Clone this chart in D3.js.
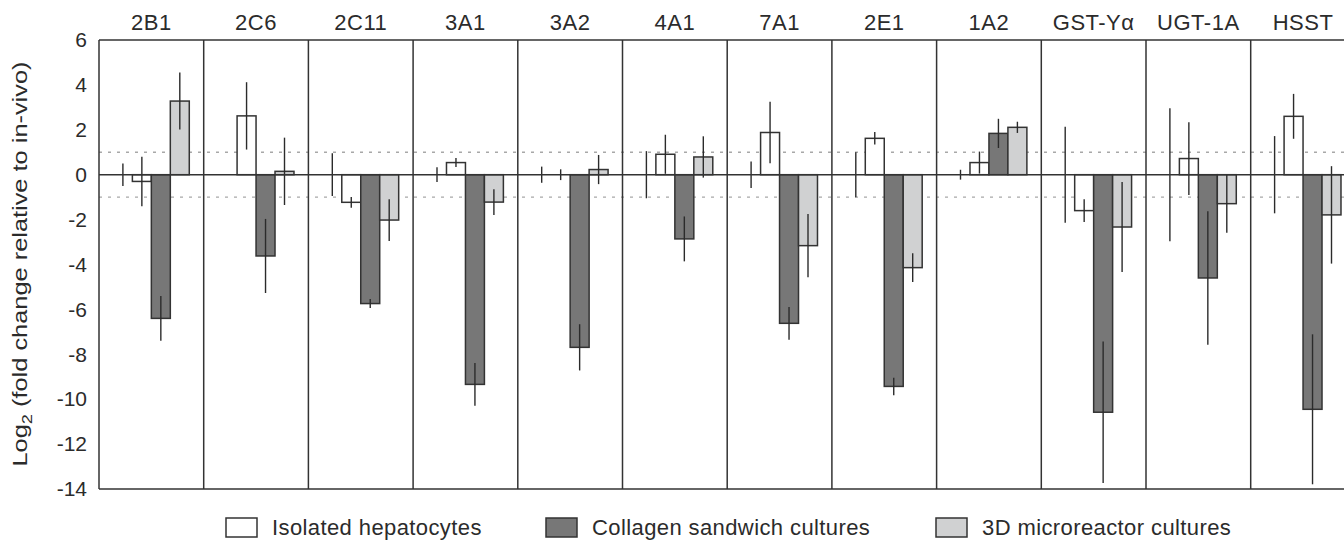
<!DOCTYPE html>
<html lang="en">
<head>
  <meta charset="UTF-8">
  <title>Fold change relative to in-vivo</title>
  <script src="https://d3js.org/d3.v7.min.js"></script>
  <style>
    body { margin: 0; background: #fff; }
    text { font-family: "Liberation Sans", Arial, sans-serif; fill: #2b2b2b; }
  </style>
</head>
<body>
<script>
  // genes along the top
  const genes = ["2B1", "2C6", "2C11", "3A1", "3A2", "4A1", "7A1", "2E1", "1A2", "GST-Y\u03b1", "UGT-1A", "HSST"];

  // first slot is the in-vivo reference (error bar only, value 0)
  const inVivo      = [0, 0, 0, 0, 0, 0, 0, 0, 0, 0, 0, 0];
  const inVivoErr   = [0.5, 0, 0.95, 0.33, 0.36, 1.05, 0.59, 1.0, 0.22, 2.14, 2.96, 1.72];

  const isolated    = [-0.3, 2.62, -1.23, 0.54, 0.0, 0.91, 1.88, 1.62, 0.54, -1.6, 0.72, 2.6];
  const isolatedErr = [1.1, 1.5, 0.24, 0.2, 0.24, 0.87, 1.37, 0.28, 0.49, 0.51, 1.62, 1.0];

  const collagen    = [-6.4, -3.62, -5.74, -9.34, -7.69, -2.86, -6.62, -9.43, 1.84, -10.58, -4.6, -10.45];
  const collagenErr = [1.0, 1.65, 0.2, 0.95, 1.03, 1.0, 0.73, 0.39, 0.65, 3.15, 2.97, 3.34];

  const micro       = [3.28, 0.15, -2.02, -1.22, 0.23, 0.79, -3.16, -4.14, 2.11, -2.33, -1.29, -1.79];
  const microErr    = [1.27, 1.5, 0.93, 0.57, 0.65, 0.92, 1.41, 0.64, 0.25, 2.0, 1.3, 2.17];

  const yTicks = [6, 4, 2, 0, -2, -4, -6, -8, -10, -12, -14];

  const series = [
    { key: "vivo", name: null, values: inVivo, errs: inVivoErr, fill: "none" },
    { key: "iso", name: "Isolated hepatocytes", values: isolated, errs: isolatedErr, fill: "#ffffff" },
    { key: "col", name: "Collagen sandwich cultures", values: collagen, errs: collagenErr, fill: "#777777" },
    { key: "mic", name: "3D microreactor cultures", values: micro, errs: microErr, fill: "#d0d1d2" }
  ];

  const W = 1344, H = 541;
  const plotLeft = 99, plotTop = 40, plotBottom = 489;
  const groupW = 104.7;
  const plotRight = plotLeft + genes.length * groupW; // runs past the page edge like the original

  const svg = d3.select("body").append("svg")
    .attr("width", W)
    .attr("height", H);

  const x0 = d3.scaleBand()
    .domain(genes)
    .range([plotLeft, plotRight])
    .padding(0);

  const x1 = d3.scaleBand()
    .domain(series.map(s => s.key))
    .range([0, x0.bandwidth()])
    .paddingInner(0)
    .paddingOuter(0.76);

  const y = d3.scaleLinear()
    .domain([-14, 6])
    .range([plotBottom, plotTop]);

  // dotted +/-1 guides
  svg.selectAll(".guide")
    .data([1, -1])
    .enter().append("line")
    .attr("x1", plotLeft).attr("x2", plotRight)
    .attr("y1", d => y(d)).attr("y2", d => y(d))
    .attr("stroke", "#a8a8a8")
    .attr("stroke-width", 1.3)
    .attr("stroke-dasharray", "3,6");

  // bars
  const groups = svg.selectAll(".gene")
    .data(genes)
    .enter().append("g")
    .attr("class", "gene")
    .attr("transform", d => "translate(" + x0(d) + ",0)");

  series.forEach(s => {
    if (s.fill === "none") return;
    groups.append("rect")
      .attr("x", x1(s.key))
      .attr("width", x1.bandwidth())
      .attr("y", (d, i) => y(Math.max(0, s.values[i])))
      .attr("height", (d, i) => Math.abs(y(s.values[i]) - y(0)))
      .attr("fill", s.fill)
      .attr("stroke", "#333")
      .attr("stroke-width", 1.5);
  });

  // zero line
  svg.append("line")
    .attr("x1", plotLeft).attr("x2", plotRight)
    .attr("y1", y(0)).attr("y2", y(0))
    .attr("stroke", "#333")
    .attr("stroke-width", 1.5);

  // error bars
  series.forEach(s => {
    groups.filter((d, i) => s.errs[i] > 0)
      .append("line")
      .attr("x1", x1(s.key) + x1.bandwidth() / 2)
      .attr("x2", x1(s.key) + x1.bandwidth() / 2)
      .attr("y1", d => y(s.values[genes.indexOf(d)] + s.errs[genes.indexOf(d)]))
      .attr("y2", d => y(s.values[genes.indexOf(d)] - s.errs[genes.indexOf(d)]))
      .attr("stroke", "#2b2b2b")
      .attr("stroke-width", 1.4);
  });

  // frame: top, bottom and dividers between genes
  svg.append("line")
    .attr("x1", plotLeft).attr("x2", plotRight)
    .attr("y1", plotTop).attr("y2", plotTop)
    .attr("stroke", "#333").attr("stroke-width", 1.5);
  svg.append("line")
    .attr("x1", plotLeft).attr("x2", plotRight)
    .attr("y1", plotBottom).attr("y2", plotBottom)
    .attr("stroke", "#333").attr("stroke-width", 1.5);

  svg.selectAll(".divider")
    .data(genes)
    .enter().append("line")
    .attr("x1", d => x0(d)).attr("x2", d => x0(d))
    .attr("y1", plotTop).attr("y2", plotBottom)
    .attr("stroke", "#333")
    .attr("stroke-width", 1.5);

  // gene labels
  svg.selectAll(".gene-label")
    .data(genes)
    .enter().append("text")
    .attr("x", d => x0(d) + x0.bandwidth() / 2)
    .attr("y", 30)
    .attr("text-anchor", "middle")
    .style("font-size", "22px")
    .style("letter-spacing", "0.5px")
    .text(d => d);

  // y axis (plain hyphen for negatives, as in the original)
  const yAxis = svg.append("g")
    .attr("transform", "translate(" + plotLeft + ",0)")
    .call(d3.axisLeft(y).tickValues(yTicks).tickSize(0).tickPadding(12).tickFormat(d => String(d)));
  yAxis.select(".domain").remove();
  yAxis.selectAll("text")
    .style("font-size", "21px")
    .attr("fill", "#2b2b2b")
    .style("font-family", "'Liberation Sans', Arial, sans-serif");

  const yl = svg.append("text")
    .attr("transform", "translate(27,264) rotate(-90)")
    .attr("text-anchor", "middle")
    .attr("textLength", 405)
    .attr("lengthAdjust", "spacingAndGlyphs")
    .style("font-size", "21px");
  yl.append("tspan").text("Log");
  yl.append("tspan").attr("dy", 5).style("font-size", "15px").text("2");
  yl.append("tspan").attr("dy", -5).text(" (fold change relative to in-vivo)");

  // legend
  const legendX = [226, 546, 936];
  const legend = svg.selectAll(".legend")
    .data(series.filter(s => s.name))
    .enter().append("g")
    .attr("class", "legend")
    .attr("transform", (d, i) => "translate(" + legendX[i] + ",518)");

  legend.append("rect")
    .attr("width", 31)
    .attr("height", 19)
    .attr("fill", d => d.fill)
    .attr("stroke", "#333")
    .attr("stroke-width", 1.5);

  legend.append("text")
    .attr("x", 46)
    .attr("y", 17)
    .style("font-size", "22px")
    .style("letter-spacing", "0.4px")
    .text(d => d.name);
</script>
</body>
</html>
